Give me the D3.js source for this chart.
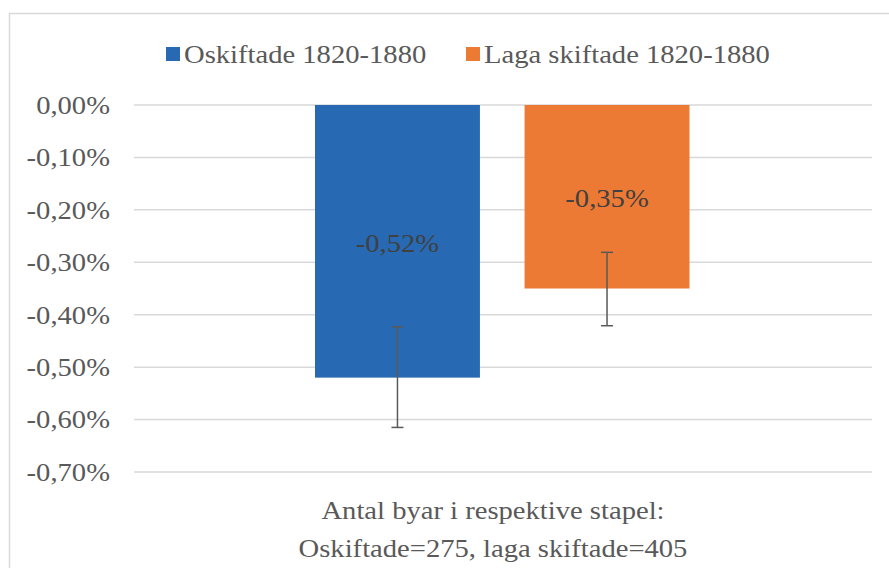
<!DOCTYPE html>
<html>
<head>
<meta charset="utf-8">
<script src="https://cdn.jsdelivr.net/npm/d3@7"></script>
<style>
  html, body { margin: 0; padding: 0; background: #fff; }
  svg { display: block; }
</style>
</head>
<body>
<svg id="chart" width="889" height="568"></svg>
<script>
// Average change per series, with error-bar bounds
const seriesNames = ["Oskiftade 1820-1880", "Laga skiftade 1820-1880"];
const seriesColors = ["#2769B2", "#ED7A34"];
const values = [-0.0052, -0.0035];
const errLow = [-0.00615, -0.00421];
const errHigh = [-0.00423, -0.00281];
const yTicks = [0, -0.001, -0.002, -0.003, -0.004, -0.005, -0.006, -0.007];
const categoryLines = ["Antal byar i respektive stapel:", "Oskiftade=275, laga skiftade=405"];

const FONT = "Liberation Serif";
const FS = 26;
const SX = 1.1; // slightly widened lettering
const svg = d3.select("#chart");
const W = 889, H = 568;
const fmt = v => (v * 100).toFixed(2).replace(".", ",") + "%";
const place = (px, py) => `translate(${px},${py}) scale(${SX},1)`;

// chart frame
svg.append("rect").attr("x", 9.5).attr("y", 13.5).attr("width", W).attr("height", H)
  .attr("fill", "#fff").attr("stroke", "#d9d9d9").attr("stroke-width", 1.5);

const plot = { left: 134, right: 872, top: 105, bottom: 472 };
const y = d3.scaleLinear().domain([0, -0.007]).range([plot.top, plot.bottom]);
const x = d3.scaleBand().domain(seriesNames).range([315, 689.5]).paddingInner(0.213).paddingOuter(0);

// gridlines
svg.append("g").selectAll("line").data(yTicks).join("line")
  .attr("x1", plot.left).attr("x2", plot.right)
  .attr("y1", d => y(d)).attr("y2", d => y(d))
  .attr("stroke", "#d9d9d9").attr("stroke-width", 1.5);

// y axis labels
const yAxis = d3.axisLeft(y).tickValues(yTicks).tickFormat(fmt).tickSize(0).tickPadding(0);
const gy = svg.append("g").attr("transform", "translate(110,0)").call(yAxis);
gy.attr("font-family", null).attr("font-size", null);
gy.select(".domain").remove();
gy.selectAll("text").attr("fill", "#595959").attr("dy", "0.32em")
  .attr("font-family", FONT).attr("font-size", FS)
  .attr("transform", `scale(${SX},1)`);

// bars
svg.append("g").selectAll("rect").data(values).join("rect")
  .attr("x", (d, i) => x(seriesNames[i]))
  .attr("width", x.bandwidth())
  .attr("y", y(0))
  .attr("height", d => y(d) - y(0))
  .attr("fill", (d, i) => seriesColors[i]);

// error bars
const eb = svg.append("g").attr("stroke", "#595959").attr("stroke-width", 1.5);
values.forEach((v, i) => {
  const cx = x(seriesNames[i]) + x.bandwidth() / 2;
  eb.append("line").attr("x1", cx).attr("x2", cx).attr("y1", y(errHigh[i])).attr("y2", y(errLow[i]));
  [errHigh[i], errLow[i]].forEach(e => {
    eb.append("line").attr("x1", cx - 6).attr("x2", cx + 6).attr("y1", y(e)).attr("y2", y(e));
  });
});

// value labels
const labelY = [-0.00263, -0.00178];
svg.append("g").selectAll("text").data(values).join("text")
  .attr("transform", (d, i) => place(x(seriesNames[i]) + x.bandwidth() / 2, y(labelY[i])))
  .attr("dy", "0.35em")
  .attr("text-anchor", "middle")
  .attr("font-family", FONT).attr("font-size", FS)
  .attr("fill", "#404040")
  .text(fmt);

// legend
const legendX = [166, 466];
const lg = svg.append("g");
seriesNames.forEach((s, i) => {
  lg.append("rect").attr("x", legendX[i]).attr("y", 47).attr("width", 14).attr("height", 14).attr("fill", seriesColors[i]);
  lg.append("text").attr("transform", place(legendX[i] + 18, 54)).attr("dy", "0.35em")
    .attr("font-family", FONT).attr("font-size", FS)
    .attr("fill", "#595959").text(s);
});

// category label
svg.append("g").selectAll("text").data(categoryLines).join("text")
  .attr("transform", (d, i) => place(493, 510 + i * 38)).attr("dy", "0.35em")
  .attr("text-anchor", "middle").attr("fill", "#595959")
  .attr("font-family", FONT).attr("font-size", FS)
  .text(d => d);
</script>
</body>
</html>
